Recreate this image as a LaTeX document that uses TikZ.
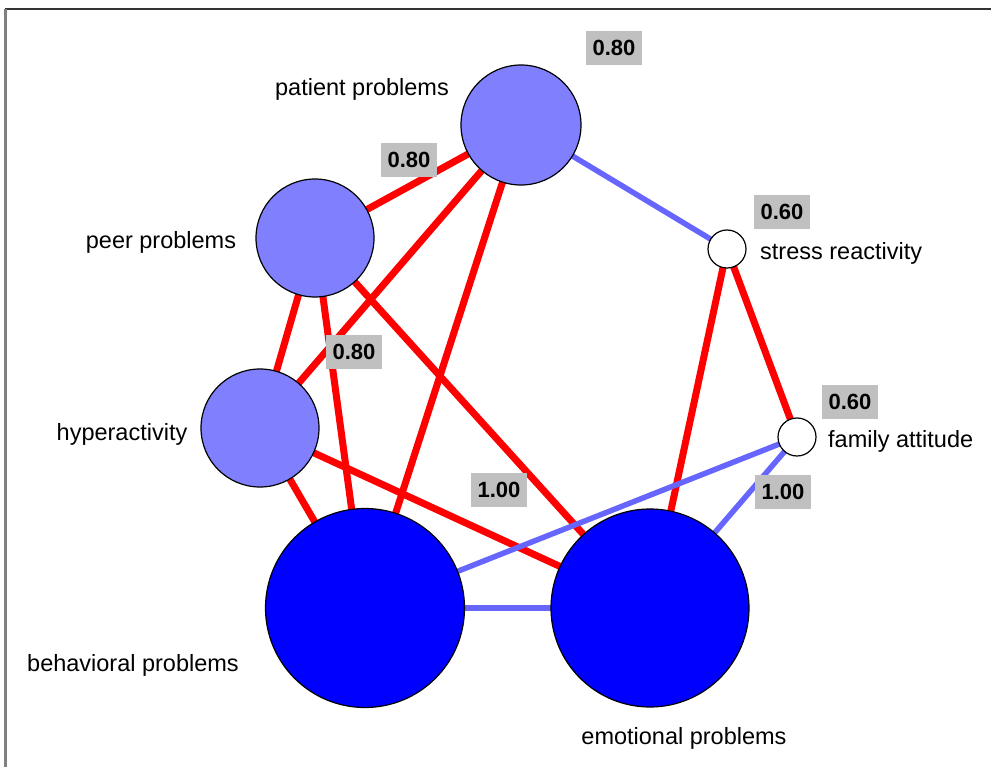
\documentclass[tikz,border=0pt]{standalone}
\usepackage{fontspec}
\setmainfont{Liberation Sans}
\pgfdeclarelayer{bg}
\pgfsetlayers{bg,main}
\definecolor{lightnode}{RGB}{128,128,255}
\definecolor{darknode}{RGB}{0,0,255}
\definecolor{negedge}{RGB}{102,102,255}
\definecolor{posedge}{RGB}{255,0,0}
\definecolor{wbox}{RGB}{192,192,192}
\tikzset{
  vert/.style={circle, draw=black, line width=1.2pt, inner sep=0pt},
  lbl/.style={font=\fontsize{23.5}{27}\selectfont, inner sep=0pt},
  wlabel/.style={fill=wbox, font=\bfseries\fontsize{22}{26}\selectfont, inner xsep=6.5pt, inner ysep=9pt},
  posedgeline/.style={draw=posedge, line width=7pt},
  negedgeline/.style={draw=negedge, line width=5.5pt},
}
\begin{document}
\begin{tikzpicture}[x=1pt, y=-1pt]
\useasboundingbox (0,0) rectangle (991,767);
% frame edges
\draw[line width=2pt, color=black!80] (5,9.5) -- (991,9.5);
\draw[line width=2.2pt, color=black!50] (5.5,9) -- (5.5,767);

% vertices
\node[vert, fill=lightnode, minimum size=120pt] (patient) at (521,125) {};
\node[vert, fill=lightnode, minimum size=118pt] (peer) at (315,238) {};
\node[vert, fill=lightnode, minimum size=118pt] (hyper) at (260,428) {};
\node[vert, fill=darknode, minimum size=199pt] (behav) at (365,608) {};
\node[vert, fill=darknode, minimum size=198pt] (emot) at (650,608) {};
\node[vert, fill=white, minimum size=38pt] (stress) at (727,249) {};
\node[vert, fill=white, minimum size=38pt] (family) at (797,437) {};

% vertex names
\node[lbl] (tpatient) at (362,89) {patient problems};
\node[lbl] (tpeer) at (161,242) {peer problems};
\node[lbl] (thyper) at (122,434) {hyperactivity};
\node[lbl] (tbehav) at (133,665) {behavioral problems};
\node[lbl] (temot) at (684,738) {emotional problems};
\node[lbl, anchor=west] (tstress) at (760,253) {stress reactivity};
\node[lbl, anchor=west] (tfamily) at (828,441) {family attitude};

% weights
\node[wlabel] (w1) at (614,48) {0.80};
\node[wlabel] (w2) at (409,160) {0.80};
\node[wlabel] (w3) at (354,352) {0.80};
\node[wlabel] (w4) at (782,212) {0.60};
\node[wlabel] (w5) at (850,402) {0.60};
\node[wlabel] (w6) at (499,490) {1.00};
\node[wlabel] (w7) at (783,492) {1.00};

% connections, kept underneath the vertices and weights
\begin{pgfonlayer}{bg}
\draw[posedgeline] (patient.center) -- (peer.center);
\draw[posedgeline] (patient.center) -- (hyper.center);
\draw[posedgeline] (patient.center) -- (behav.center);
\draw[negedgeline] (patient.center) -- (stress.center);
\draw[posedgeline] (peer.center) -- (hyper.center);
\draw[posedgeline] (peer.center) -- (behav.center);
\draw[posedgeline] (peer.center) -- (emot.center);
\draw[posedgeline] (hyper.center) -- (behav.center);
\draw[posedgeline] (hyper.center) -- (emot.center);
\draw[posedgeline] (stress.center) -- (emot.center);
\draw[posedgeline] (stress.center) -- (family.center);
\draw[negedgeline] (family.center) -- (behav.center);
\draw[negedgeline] (family.center) -- (emot.center);
\draw[negedgeline] (behav.center) -- (emot.center);
\end{pgfonlayer}
\end{tikzpicture}
\end{document}
